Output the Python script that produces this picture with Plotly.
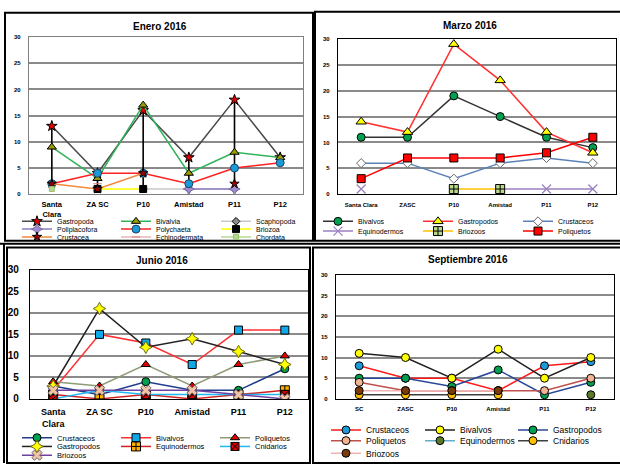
import plotly.graph_objects as go

W, H = 620, 470

# ---------------- data ----------------
sites_ene = ["Santa<br>Clara", "ZA SC", "P10", "Amistad", "P11", "P12"]
ene_gastropoda = [13, 4, 16, 7, 18, 7]
ene_bivalvia = [9, 3, 17, 4, 8, 7]
ene_scaphopoda = [None, None, 1, 1, 1, None]
ene_poliplacofora = [None, None, None, 1, 1, None]
ene_polychaeta = [2, 4, 4, 2, 5, 6]
ene_briozoa = [None, 1, 1, None, None, None]
ene_crustacea = [2, 1, 4, None, 2, None]
ene_echinodermata = [None, 2, None, None, None, None]
ene_chordata = [1, None, None, None, None, None]

sites_mar = ["Santa Clara", "ZASC", "P10", "Amistad", "P11", "P12"]
mar_bivalvos = [11, 11, 19, 15, 11, 9]
mar_gastropodos = [14, 12, 29, 22, 12, 8]
mar_crustaceos = [6, 6, 3, 6, 7, 6]
mar_equinodermos = [1, None, None, 1, 1, 1]
mar_briozoos = [None, None, 1, 1, None, None]
mar_poliquetos = [3, 7, 7, 7, 8, 11]

sites_jun = ["Santa<br>Clara", "ZA SC", "P10", "Amistad", "P11", "P12"]
jun_crustaceos = [3, 1, 4, 2, 2, 7]
jun_bivalvos = [2, 15, 13, 8, 16, 16]
jun_poliquetos = [4, 3, 8, 3, 8, 10]
jun_gastropodos = [3, 21, 12, 14, 11, 8]
jun_equinodermos = [1, 0, 1, 0, 1, 2]
jun_cnidarios = [0, 2, 1, 1, 1, 1]
jun_briozoos = [2, 2, 2, 2, 1, 0]

sites_sep = ["SC", "ZASC", "P10", "Amistad", "P11", "P12"]
sep_crustaceos = [8, 5, 5, 2, 8, 9]
sep_bivalvos = [11, 10, 5, 12, 5, 10]
sep_gastropodos = [5, 5, 3, 7, 1, 4]
sep_poliquetos = [4, 2, 2, 2, 2, 5]
sep_equinodermos = [None, None, None, None, None, 1]
sep_cnidarios = [1, 1, 1, 1, None, None]
sep_briozoos = [2, 2, 2, 2, None, None]

FONT = "Liberation Sans"


def px(x):
    return x / W


def py(y):
    return 1 - y / H


fig = go.Figure()
legends = {}


def add(name, sites, vals, axis, lpos, line, mcolor, symbol, msize=7,
        mline="#000000", mlw=1, lw=1.5):
    # every entry gets its own small legend box so the key grid can be laid out freely
    lid = "legend" if not legends else "legend%d" % (len(legends) + 1)
    lx, ly, fs = lpos
    legends[lid] = dict(x=px(lx), y=py(ly), xanchor="left", yanchor="middle",
                        orientation="h", bgcolor="rgba(0,0,0,0)", borderwidth=0,
                        font=dict(family=FONT, size=fs, color="#000000"))
    fig.add_trace(go.Scatter(
        x=sites, y=vals, name=name, mode="lines+markers",
        xaxis="x" + axis, yaxis="y" + axis, legend=lid,
        line=dict(color=line, width=lw),
        marker=dict(color=mcolor, symbol=symbol, size=msize,
                    line=dict(color=mline, width=mlw)),
        hoverinfo="skip"))


# ---------- Enero: high-low lines across all groups ----------
ene_all = [ene_gastropoda, ene_bivalvia, ene_scaphopoda, ene_poliplacofora,
           ene_polychaeta, ene_briozoa, ene_crustacea, ene_echinodermata,
           ene_chordata]
hl_x, hl_y = [], []
for i, s in enumerate(sites_ene):
    col = [v[i] for v in ene_all if v[i] is not None]
    hl_x += [s, s, None]
    hl_y += [max(col), min(col), None]
fig.add_trace(go.Scatter(x=hl_x, y=hl_y, mode="lines", xaxis="x1", yaxis="y1",
                         line=dict(color="#000000", width=1.6),
                         showlegend=False, hoverinfo="skip"))

# key grid positions (left x, row y, font size)
EC = [17, 116, 216]
ER = [223, 231, 239]
add("Gastropoda", sites_ene, ene_gastropoda, "1", (EC[0], ER[0], 7), "#4a4a4a", "#e00000", "star", 8)
add("Bivalvia", sites_ene, ene_bivalvia, "1", (EC[1], ER[0], 7), "#2fb45a", "#9a9a00", "triangle-up", 8)
add("Scaphopoda", sites_ene, ene_scaphopoda, "1", (EC[2], ER[0], 7), "#c8c8c8", "#8c8c8c", "diamond", 6)
add("Poliplacofora", sites_ene, ene_poliplacofora, "1", (EC[0], ER[1], 7), "#8e7cc3", "#a08cc8", "star-diamond", 8, "#7a6aa8")
add("Polychaeta", sites_ene, ene_polychaeta, "1", (EC[1], ER[1], 7), "#ff2020", "#1a9bd7", "circle", 8, "#204060")
add("Briozoa", sites_ene, ene_briozoa, "1", (EC[2], ER[1], 7), "#ffff00", "#000000", "square", 7)
add("Crustacea", sites_ene, ene_crustacea, "1", (EC[0], ER[2], 7), "#f08a3c", "#a00000", "star", 7)
add("Echinodermata", sites_ene, ene_echinodermata, "1", (EC[1], ER[2], 7), "#e8b4b4", "#d89090", "line-ew", 6, "#d08080")
add("Chordata", sites_ene, ene_chordata, "1", (EC[2], ER[2], 7), "#b5d88f", "#b5d88f", "square", 5, "#9cc070")

# ---------- Marzo ----------
MC = [318, 418, 518]
MR = [223, 233]
add("Bivalvos", sites_mar, mar_bivalvos, "2", (MC[0], MR[0], 7), "#333333", "#00a050", "circle", 8)
add("Gastropodos", sites_mar, mar_gastropodos, "2", (MC[1], MR[0], 7), "#ff3030", "#ffff00", "triangle-up", 9)
add("Crustaceos", sites_mar, mar_crustaceos, "2", (MC[2], MR[0], 7), "#5b82b8", "#ffffff", "diamond", 7, "#666666")
add("Equinodermos", sites_mar, mar_equinodermos, "2", (MC[0], MR[1], 7), "#9a7fc0", "#9a7fc0", "x-thin-open", 9, "#9a7fc0", 1.2)
add("Briozoos", sites_mar, mar_briozoos, "2", (MC[1], MR[1], 7), "#ffc000", "#b9d88a", "square-cross", 9, "#000000")
add("Poliquetos", sites_mar, mar_poliquetos, "2", (MC[2], MR[1], 7), "#ff0000", "#ff0000", "square", 8)

# ---------- Junio ----------
JC = [17, 116, 215]
JR = [446, 455, 464]
add("Crustaceos", sites_jun, jun_crustaceos, "3", (JC[0], JR[0], 7.5), "#203c8c", "#00a050", "circle", 8)
add("Bivalvos", sites_jun, jun_bivalvos, "3", (JC[1], JR[0], 7.5), "#ff3030", "#0fa8e8", "square", 8)
add("Poliquetos", sites_jun, jun_poliquetos, "3", (JC[2], JR[0], 7.5), "#8c9c74", "#e00000", "triangle-up", 8)
add("Gastropodos", sites_jun, jun_gastropodos, "3", (JC[0], JR[1], 7.5), "#222222", "#ffff00", "star-diamond", 9, "#6b6b00")
add("Equinodermos", sites_jun, jun_equinodermos, "3", (JC[1], JR[1], 7.5), "#d02020", "#ffb000", "square-cross", 9)
add("Cnidarios", sites_jun, jun_cnidarios, "3", (JC[2], JR[1], 7.5), "#20b8f0", "#e00000", "square-x", 8)
add("Briozoos", sites_jun, jun_briozoos, "3", (JC[0], JR[2], 7.5), "#7040a0", "#f3c4a4", "x", 9, "#666666")

# ---------- Septiembre ----------
SC_ = [326, 420, 513]
SR = [438, 449, 462]
add("Crustaceos", sites_sep, sep_crustaceos, "4", (SC_[0], SR[0], 8.5), "#ff1a1a", "#1e9ad6", "circle", 8)
add("Bivalvos", sites_sep, sep_bivalvos, "4", (SC_[1], SR[0], 8.5), "#222222", "#ffff00", "circle", 8)
add("Gastropodos", sites_sep, sep_gastropodos, "4", (SC_[2], SR[0], 8.5), "#2a4898", "#00a050", "circle", 8)
add("Poliquetos", sites_sep, sep_poliquetos, "4", (SC_[0], SR[1], 8.5), "#c0504d", "#f2b494", "circle", 8)
add("Equinodermos", sites_sep, sep_equinodermos, "4", (SC_[1], SR[1], 8.5), "#5fb0c8", "#5a7a28", "circle", 8)
add("Cnidarios", sites_sep, sep_cnidarios, "4", (SC_[2], SR[1], 8.5), "#404040", "#ffc000", "circle", 8)
add("Briozoos", sites_sep, sep_briozoos, "4", (SC_[0], SR[2], 8.5), "#f0b4b4", "#7a3a0a", "circle", 8)

# ---------- axes ----------
panels = {
    # id: (left, right, top, bottom, frame colour, ytick size, xtick size, x standoff)
    "1": (29, 303, 33, 195, "#7f7f7f", 6, 7.5, 3),
    "2": (338, 616, 35, 195, "#000000", 6, 6, 4),
    "3": (30, 308, 273, 406, "#000000", 10, 9, 4),
    "4": (336, 614, 278, 406, "#000000", 6, 6, 4),
}
site_lists = {"1": sites_ene, "2": sites_mar, "3": sites_jun, "4": sites_sep}
layout_axes = {}
for k, (l, r, t, b, fc, ys, xs, so) in panels.items():
    layout_axes["xaxis" + k] = dict(
        domain=[px(l), px(r)], anchor="y" + k, type="category",
        categoryorder="array", categoryarray=site_lists[k], range=[-0.5, 5.5],
        showgrid=False, zeroline=False, showline=True, mirror=True,
        linecolor=fc, linewidth=1.3, ticks="", ticklabelstandoff=so,
        tickfont=dict(family=FONT, size=xs, color="#000000", weight="bold"))
    layout_axes["yaxis" + k] = dict(
        domain=[py(b), py(t)], anchor="x" + k, range=[0, 30], dtick=5,
        showgrid=True, gridcolor="#8a8a8a", gridwidth=1.5, zeroline=False,
        showline=True, mirror=True, linecolor=fc, linewidth=1.3, ticks="",
        ticklabelstandoff=6 if k != "3" else 8,
        tickfont=dict(family=FONT, size=ys, color="#000000", weight="bold"))

titles = [("Enero 2016", 160, 22), ("Marzo 2016", 470, 21),
          ("Junio 2016", 162, 263), ("Septiembre 2016", 468, 262)]
annotations = [dict(text=t, x=px(x), y=py(y), xref="paper", yref="paper",
                    showarrow=False, xanchor="center", yanchor="middle",
                    font=dict(family=FONT, size=10, color="#000000", weight="bold"))
               for t, x, y in titles]


def rect(x0, y0, x1, y1, w=2):
    return dict(type="rect", xref="paper", yref="paper", x0=px(x0), x1=px(x1),
                y0=py(y0), y1=py(y1), line=dict(color="#000000", width=w),
                fillcolor="rgba(0,0,0,0)", layer="above")


def hline(x0, x1, y, w=2):
    return dict(type="line", xref="paper", yref="paper", x0=px(x0), x1=px(x1),
                y0=py(y), y1=py(y), line=dict(color="#000000", width=w))


def vline(x, y0, y1, w=2):
    return dict(type="line", xref="paper", yref="paper", x0=px(x), x1=px(x),
                y0=py(y0), y1=py(y1), line=dict(color="#000000", width=w))


shapes = [
    rect(5, 8, 313, 243),
    rect(315, 7, 622, 243),
    hline(0, 620, 246),
    vline(4, 246, 472),
    rect(7, 250, 310, 472),
    rect(313, 250, 622, 472),
]

fig.update_layout(
    width=W, height=H, margin=dict(l=0, r=0, t=0, b=0),
    paper_bgcolor="#ffffff", plot_bgcolor="#ffffff",
    showlegend=True, annotations=annotations, shapes=shapes,
    **layout_axes, **legends)

fig.write_html("out.html")
